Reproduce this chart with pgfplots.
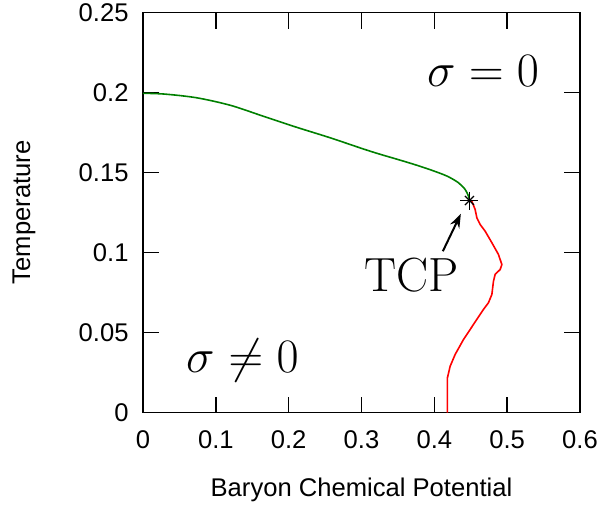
\RequirePackage{fix-cm}
\documentclass[border=0pt]{standalone}
\usepackage{fontspec}
\setsansfont{Liberation Sans}
\usepackage{pgfplots}
\pgfplotsset{compat=1.18}
\usetikzlibrary{arrows.meta}
\begin{document}
\begin{tikzpicture}
\begin{axis}[
  width=218.5pt, height=200pt, scale only axis,
  xmin=0, xmax=0.6, ymin=0, ymax=0.25,
  xtick={0,0.1,0.2,0.3,0.4,0.5,0.6},
  xticklabels={0,0.1,0.2,0.3,0.4,0.5,0.6},
  ytick={0,0.05,0.1,0.15,0.2,0.25},
  yticklabels={0,0.05,0.1,0.15,0.2,0.25},
  tick align=inside, major tick length=8pt,
  axis line style={line width=0.7pt},
  every tick/.style={black, line width=0.7pt},
  tick label style={font=\sffamily\fontsize{12.8}{15}\selectfont},
  xticklabel style={anchor=center, yshift=-13.5pt},
  yticklabel style={anchor=east, xshift=-3.7pt},
  label style={font=\sffamily\fontsize{12.8}{15}\selectfont},
  xlabel={Baryon Chemical Potential},
  ylabel={Temperature},
  xlabel style={at={(axis description cs:0.5,-0.1925)}, anchor=center},
  ylabel style={at={(axis description cs:-0.2723,0.5)}, anchor=center},
  clip=false,
]
\addplot[color=green!50!black, line width=0.8pt, smooth] coordinates {
(0,0.1995) (0.03,0.199) (0.0737,0.1967) (0.12,0.192) (0.165,0.1852)
(0.21,0.1784) (0.257,0.1717) (0.3026,0.1647) (0.3255,0.1614) (0.348,0.1584)
(0.3713,0.1552) (0.394,0.1518) (0.4172,0.1478) (0.4331,0.1436) (0.4423,0.1394)
(0.4469,0.1352) (0.4482,0.1325)
};
\addplot[color=red, line width=0.8pt] coordinates {
(0.4482,0.1325) (0.4515,0.1321) (0.4560,0.1269) (0.4584,0.1217) (0.4629,0.1175)
(0.4698,0.1133) (0.4790,0.1061) (0.4880,0.0988) (0.4927,0.0925) (0.4904,0.0894)
(0.4835,0.0863) (0.4812,0.0821) (0.4790,0.0738) (0.4743,0.0686) (0.4674,0.0644)
(0.4537,0.0550) (0.4400,0.0456) (0.4286,0.0363) (0.4217,0.0289) (0.4180,0.0217)
(0.4180,0)
};
\addplot[only marks, mark=+, mark size=4.5pt, mark options={line width=0.6pt, black}] coordinates {(0.4482,0.1325)};
\addplot[only marks, mark=x, mark size=3.2pt, mark options={line width=0.6pt, black}] coordinates {(0.4482,0.1325)};
\draw[line width=1pt, -{Stealth[length=7pt,width=5pt]}] (axis cs:0.4117,0.1008) -- (axis cs:0.4364,0.1242);
\node[anchor=base, inner sep=0pt] at (axis cs:0.467,0.204) {\fontsize{24}{28}\selectfont $\sigma = 0$};
\node[anchor=base, inner sep=0pt] at (axis cs:0.137,0.025) {\fontsize{24}{28}\selectfont $\sigma \neq 0$};
\node[anchor=base, inner sep=0pt] at (axis cs:0.369,0.0756) {\fontsize{24}{28}\selectfont TCP};
\coordinate (ll) at (rel axis cs:0,0);
\coordinate (ur) at (rel axis cs:1,1);
\end{axis}
\pgfresetboundingbox
\path ([shift={(-71.5pt,-48pt)}]ll) rectangle ([shift={(9.5pt,6.25pt)}]ur);
\end{tikzpicture}
\end{document}
